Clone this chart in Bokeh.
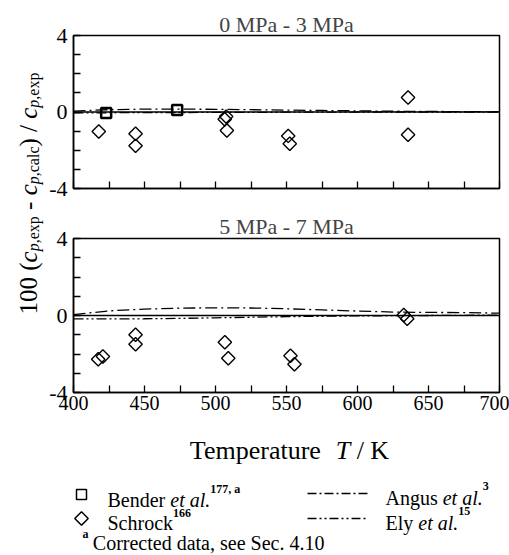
from math import pi
from bokeh.plotting import figure
from bokeh.models import Range1d, FixedTicker, Span, CustomLabelingPolicy
from bokeh.layouts import row, column
from bokeh.core.properties import value
from bokeh.embed import file_html
from bokeh.resources import INLINE

FONT = "Liberation Serif"

# ---------------- data ----------------
panel_titles = ["0 MPa - 3 MPa", "5 MPa - 7 MPa"]
x_major = [400, 450, 500, 550, 600, 650, 700]
x_minor = [425, 475, 525, 575, 625, 675]
y_major = [-4, 0, 4]
y_minor = [-3, -2, -1, 1, 2, 3]
y_tick_labels = ["-4", "0", "4"]

bender_T_top = [423.0, 473.0]
bender_dev_top = [-0.05, 0.10]

schrock_T_top = [417.8, 443.7, 443.7, 507.5, 506.5, 508.0, 551.2, 552.3, 635.6, 635.6]
schrock_dev_top = [-1.02, -1.14, -1.77, -0.24, -0.38, -0.97, -1.25, -1.66, 0.76, -1.19]

schrock_T_bot = [417.4, 420.7, 443.7, 443.7, 506.6, 509.0, 552.8, 555.6, 632.6, 635.0]
schrock_dev_bot = [-2.27, -2.13, -1.00, -1.49, -1.39, -2.22, -2.09, -2.53, 0.03, -0.17]

T_curve = [400, 425, 450, 475, 500, 525, 550, 575, 600, 625, 650, 675, 700]
angus_top = [0.05, 0.12, 0.15, 0.15, 0.14, 0.12, 0.10, 0.08, 0.06, 0.04, 0.03, 0.02, 0.02]
ely_top = [-0.05, -0.04, -0.03, -0.03, -0.02, -0.02, -0.01, -0.01, 0.0, 0.0, 0.0, 0.0, 0.0]
angus_bot = [0.05, 0.24, 0.33, 0.38, 0.40, 0.39, 0.35, 0.29, 0.23, 0.18, 0.16, 0.15, 0.12]
ely_bot = [-0.18, -0.18, -0.17, -0.15, -0.12, -0.09, -0.06, -0.04, -0.02, -0.01, 0.0, 0.01, 0.02]

# ---------------- text metrics (Times / Liberation Serif) ----------------
W_REG = {' ': .25, '(': .333, ')': .333, ',': .25, '-': .333, '.': .25, '/': .278,
         'A': .722, 'B': .667, 'C': .667, 'E': .611, 'K': .722, 'M': .889, 'P': .556,
         'S': .556, 'T': .611, 'a': .444, 'c': .444, 'd': .5, 'e': .444, 'g': .5,
         'h': .5, 'k': .5, 'l': .278, 'm': .778, 'n': .5, 'o': .5, 'p': .5, 'r': .333,
         's': .389, 't': .278, 'u': .5, 'x': .5, 'y': .5}
W_IT = {' ': .25, '.': .25, 'T': .556, 'a': .5, 'c': .444, 'e': .444, 'l': .278,
        'p': .5, 't': .278}


def tw(s, size, style):
    tab = W_IT if style == "italic" else W_REG
    return sum(tab.get(ch, .5) for ch in s) * size


def run_h(p, x, y, pieces):
    """pieces: (text, style, size_px, baseline_shift)"""
    for txt, style, size, dy in pieces:
        lead = len(txt) - len(txt.lstrip(" "))
        core = txt.strip(" ")
        p.text(x=[x + tw(" " * lead, size, style)], y=[y + dy], text=[core],
               text_font=value(FONT), text_font_style=style,
               text_font_size=f"{size}px", text_align="left",
               text_baseline="alphabetic", text_color="black")
        x += tw(txt, size, style)
    return x


def run_v(p, x, y, pieces):
    for txt, style, size, dx in pieces:
        lead = len(txt) - len(txt.lstrip(" "))
        core = txt.strip(" ")
        p.text(x=[x + dx], y=[y - tw(" " * lead, size, style)], text=[core],
               text_font=value(FONT), text_font_style=style,
               text_font_size=f"{size}px", angle=pi / 2, text_align="left",
               text_baseline="alphabetic", text_color="black")
        y -= tw(txt, size, style)
    return y


# ---------------- panels ----------------
LAB_W = 45
P_W = 509 - LAB_W

no_labels = CustomLabelingPolicy(code="""
    const all = [...indices]
    for (const i of all) indices.unset(i)
    return indices
""")


def make_panel(title, height, top, bottom, show_x, standoff):
    p = figure(width=P_W, height=height, output_backend="svg", toolbar_location=None,
               x_range=Range1d(400, 700), y_range=Range1d(-4, 4),
               min_border_left=73 - LAB_W, min_border_right=10,
               min_border_top=top, min_border_bottom=bottom)
    p.title.text = title
    p.title.text_font = FONT
    p.title.text_font_style = "normal"
    p.title.text_font_size = "22px"
    p.title.align = "center"
    p.title.standoff = standoff
    p.xgrid.visible = False
    p.ygrid.visible = False
    p.outline_line_color = "black"
    p.outline_line_width = 1.5
    p.background_fill_color = "white"
    p.border_fill_color = "white"
    for ax in (p.xaxis[0], p.yaxis[0]):
        ax.axis_line_width = 1.5
        ax.major_tick_line_width = 1.3
        ax.minor_tick_line_width = 1.3
        ax.major_tick_in = 7
        ax.major_tick_out = 0
        ax.minor_tick_in = 7
        ax.minor_tick_out = 0
        ax.major_label_text_font = FONT
        ax.major_label_text_color = "black"
    p.xaxis.major_label_text_font_size = "20px"
    p.yaxis.major_label_text_font_size = "22px"
    p.xaxis.ticker = FixedTicker(ticks=x_major, minor_ticks=x_minor)
    p.yaxis.ticker = FixedTicker(ticks=y_major, minor_ticks=y_minor)
    p.yaxis.major_label_overrides = {v: s for v, s in zip(y_major, y_tick_labels)}
    p.yaxis.major_label_standoff = 6
    p.xaxis.major_label_standoff = 3
    if not show_x:
        p.xaxis.major_label_policy = no_labels
        p.xaxis.major_label_standoff = 0
    p.add_layout(Span(location=0, dimension="width", line_color="black", line_width=1.5))
    return p


p1 = make_panel(panel_titles[0], 205, 35, 11, False, -3)
p2 = make_panel(panel_titles[1], 215, 33, 28, True, 0)

for p, ang, ely in ((p1, angus_top, ely_top), (p2, angus_bot, ely_bot)):
    p.line(T_curve, ang, line_color="black", line_width=1.3, line_dash="12 4 2 4")
    p.line(T_curve, ely, line_color="black", line_width=1.3, line_dash="10 3 2 3 2 3")

p1.scatter(bender_T_top, bender_dev_top, marker="square", size=10, fill_color=None,
           line_color="black", line_width=2.5)
p1.scatter(schrock_T_top, schrock_dev_top, marker="square", angle=pi / 4, size=9.5,
           fill_color=None, line_color="black", line_width=1.4)
p2.scatter(schrock_T_bot, schrock_dev_bot, marker="square", angle=pi / 4, size=9.5,
           fill_color=None, line_color="black", line_width=1.4)


def blank(w, h):
    f = figure(width=w, height=h, output_backend="svg", toolbar_location=None,
               x_range=Range1d(0, w), y_range=Range1d(h, 0),
               x_axis_type=None, y_axis_type=None, min_border=0)
    f.xgrid.visible = False
    f.ygrid.visible = False
    f.outline_line_color = None
    f.background_fill_color = "white"
    f.border_fill_color = "white"
    return f


# ---------------- y-axis label ----------------
lab = blank(LAB_W, 420)
M, S = 25, 16
ylabel = [("100 (", "normal", M, 0), ("c", "italic", M, 0), ("p", "italic", S, 5),
          (",exp", "normal", S, 5), (" - ", "normal", M, 0), ("c", "italic", M, 0),
          ("p", "italic", S, 5), (",calc", "normal", S, 5), (") / ", "normal", M, 0),
          ("c", "italic", M, 0), ("p", "italic", S, 5), (",exp", "normal", S, 5)]
total = sum(tw(t, s, st) for t, st, s, _ in ylabel)
run_v(lab, 28, 193 + total / 2, ylabel)

# ---------------- x label + legend ----------------
leg = blank(509, 135)
xl = [("Temperature  ", "normal", 26, 0), ("T", "italic", 26, 0), (" / K", "normal", 26, 0)]
xw = sum(tw(t, s, st) for t, st, s, _ in xl)
run_h(leg, 289 - xw / 2, 30, xl)

leg.scatter([81], [74], marker="square", size=10, fill_color=None, line_color="black", line_width=1.5)
leg.scatter([81], [98], marker="square", angle=pi / 4, size=9.5, fill_color=None,
            line_color="black", line_width=1.5)
run_h(leg, 107, 79, [("Bender ", "normal", 20, 0), ("et al.", "italic", 20, 0),
                     ("177, a", "bold", 12, -11)])
run_h(leg, 107, 102, [("Schrock", "normal", 20, 0), ("166", "bold", 12, -10)])
run_h(leg, 82, 122, [("a", "bold", 12, -9), (" Corrected data, see Sec. 4.10", "normal", 20, 0)])

leg.line([307, 368], [73, 73], line_color="black", line_width=1.3, line_dash="9 3 2 3")
leg.line([307, 368], [98, 98], line_color="black", line_width=1.3, line_dash="9 3 2 3 2 3")
run_h(leg, 385, 77, [("Angus ", "normal", 20, 0), ("et al.", "italic", 20, 0),
                     ("3", "bold", 12, -12)])
run_h(leg, 385, 102, [("Ely ", "normal", 20, 0), ("et al.", "italic", 20, 0),
                      ("15", "bold", 12, -12)])

layout = column(row(lab, column(p1, p2)), leg)
open("out.html", "w").write(file_html(layout, INLINE))
